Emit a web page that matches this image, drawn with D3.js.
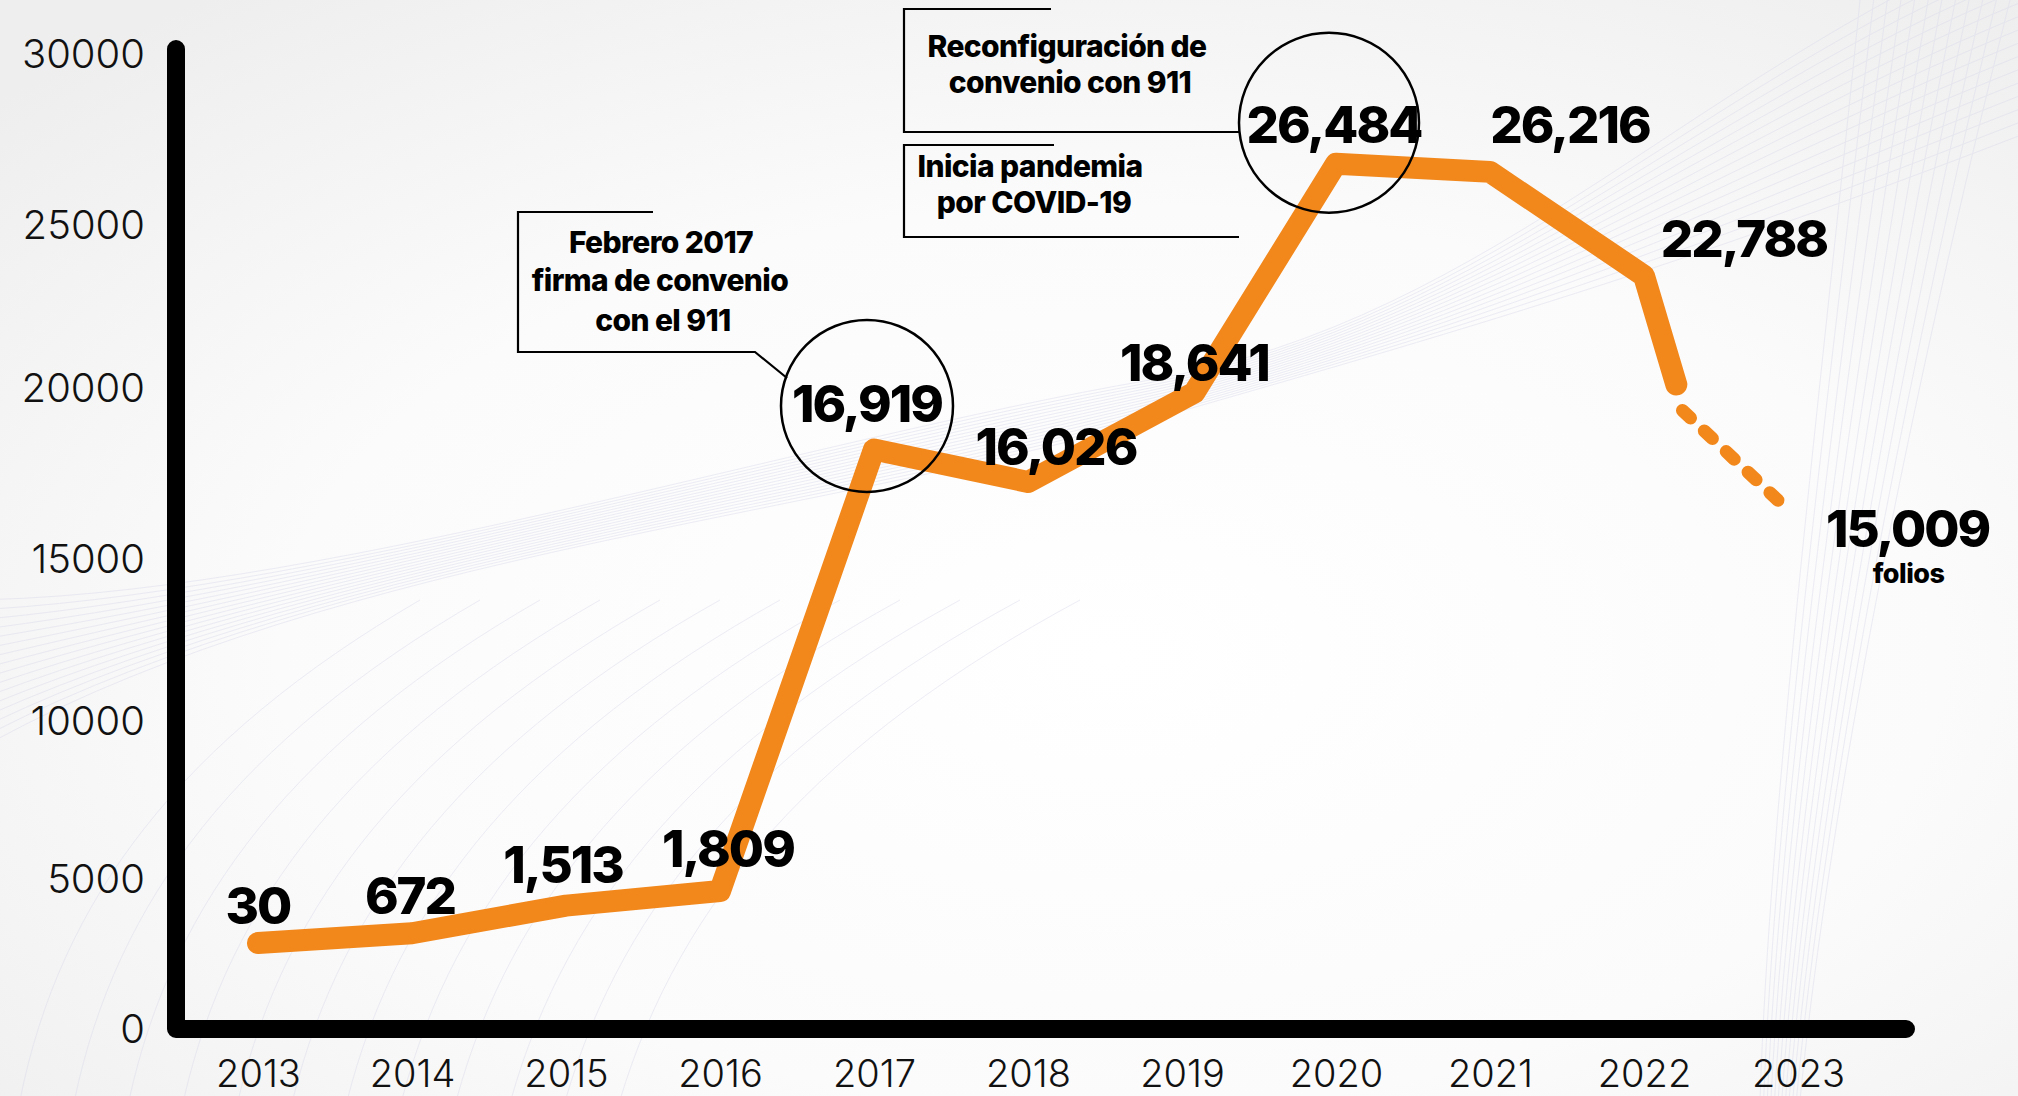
<!DOCTYPE html>
<html>
<head>
<meta charset="utf-8">
<script src="https://cdn.jsdelivr.net/npm/d3@7/dist/d3.min.js"></script>
<style>
  html, body { margin: 0; padding: 0; background: #ffffff; }
  svg { display: block; }
</style>
</head>
<body>
<svg id="chart" width="2018" height="1096"></svg>
<script>
// ---------------- DATA ----------------
const years = [2013, 2014, 2015, 2016, 2017, 2018, 2019, 2020, 2021, 2022, 2023];
const yTicks = [0, 5000, 10000, 15000, 20000, 25000, 30000];

// Where the drawn line sits on the axis
const lineYears = [2013, 2014, 2015, 2016, 2017, 2018, 2019.08, 2020, 2021, 2022, 2022.21];
const lineLevel = [2650, 2950, 3800, 4250, 17850, 16850, 19600, 26650, 26400, 23200, 19850];

// Dashed projection for 2023
const projYears = [2022.25, 2022.9];
const projLevel = [19050, 16150];

// Value labels (folios per year)
const valueLabels = ["30", "672", "1,513", "1,809", "16,919", "16,026", "18,641", "26,484", "26,216", "22,788", "15,009"];

const noteFebrero = ["Febrero 2017", "firma de convenio", "con el 911"];
const noteReconf = ["Reconfiguración de", "convenio con 911"];
const notePandemia = ["Inicia pandemia", "por COVID-19"];
const unitLabel = "folios";

// ---------------- LAYOUT ----------------
const W = 2018, H = 1096;
const ORANGE = "#F2871B";
const svg = d3.select("#chart");

const x = d3.scaleLinear().domain([2013, 2023]).range([258, 1798]);
const y = d3.scaleLinear().domain([0, 30000]).range([1029, 55]);
const axisX0 = 176;

// background
const defs = svg.append("defs");
const rg = defs.append("radialGradient").attr("id", "bg")
  .attr("cx", "0.55").attr("cy", "0.6").attr("r", "0.75");
rg.append("stop").attr("offset", "0").attr("stop-color", "#ffffff");
rg.append("stop").attr("offset", "0.55").attr("stop-color", "#fbfbfb");
rg.append("stop").attr("offset", "1").attr("stop-color", "#eeeeee");
svg.append("rect").attr("width", W).attr("height", H).attr("fill", "url(#bg)");

// faint decorative wave lines
const deco = svg.append("g").attr("fill", "none").attr("stroke", "#d8d9ec").attr("stroke-width", 1).attr("opacity", 0.45);
d3.range(16).forEach(i => {
  const t = i / 15;
  deco.append("path").attr("d",
    `M${-40},${760 - t * 160} C${300},${560 + t * 40} ${800},${520 - t * 80} ${1150},${420 - t * 40} S${1700},${260 - t * 200} ${2060},${120 - t * 200}`);
});
d3.range(12).forEach(i => {
  const t = i / 11;
  deco.append("path").attr("d",
    `M${20 + t * 600},${1100} C${60 + t * 620},${900} ${180 + t * 640},${740} ${420 + t * 660},${600}`);
});
d3.range(12).forEach(i => {
  const t = i / 11;
  deco.append("path").attr("d",
    `M${1760 + t * 40},${1100} C${1770 + t * 60},${800} ${1820 + t * 90},${400} ${1860 + t * 150},${0}`);
});

// axes (thick black L)
svg.append("path")
  .attr("d", `M${axisX0},${y(30000) - 6} V${y(0)} H1906`)
  .attr("fill", "none").attr("stroke", "#000").attr("stroke-width", 18)
  .attr("stroke-linecap", "round").attr("stroke-linejoin", "round");

// y tick labels (small nudges to match the reference's uneven label placement)
const yTickNudge = {0: 1, 5000: 13, 10000: 17, 15000: 18, 20000: 9, 25000: 8, 30000: 0};
const yAxis = svg.append("g").attr("transform", `translate(${axisX0},0)`)
  .call(d3.axisLeft(y).tickValues(yTicks).tickFormat(d3.format("d")).tickSize(0).tickPadding(31));
yAxis.select(".domain").remove();
yAxis.selectAll("text")
  .attr("font-family", "Inter, 'Noto Sans', sans-serif").attr("font-weight", 300)
  .attr("font-size", 40).attr("fill", "#111")
  .attr("y", d => yTickNudge[d]);

// x tick labels
const xAxis = svg.append("g").attr("transform", `translate(0,${y(0)})`)
  .call(d3.axisBottom(x).tickValues(years).tickFormat(d3.format("d")).tickSize(0).tickPadding(0));
xAxis.select(".domain").remove();
xAxis.selectAll("text")
  .attr("font-family", "Inter, 'Noto Sans', sans-serif").attr("font-weight", 300)
  .attr("font-size", 38).attr("fill", "#111")
  .attr("dy", null).attr("y", 58);

// main line
const pts = lineYears.map((yr, i) => [x(yr), y(lineLevel[i])]);
svg.append("path").datum(pts)
  .attr("d", d3.line())
  .attr("fill", "none").attr("stroke", ORANGE).attr("stroke-width", 22)
  .attr("stroke-linecap", "round").attr("stroke-linejoin", "round");

// dashed projection
const proj = projYears.map((yr, i) => [x(yr), y(projLevel[i])]);
svg.append("path").datum(proj)
  .attr("d", d3.line())
  .attr("fill", "none").attr("stroke", ORANGE).attr("stroke-width", 13)
  .attr("stroke-linecap", "round").attr("stroke-dasharray", "11 19");

// annotation circles
const c1 = [pts[4][0] - 7, pts[4][1] - 43.5];
const c2 = [pts[7][0] - 7, pts[7][1] - 41];
svg.append("circle").attr("cx", c1[0]).attr("cy", c1[1]).attr("r", 86)
  .attr("fill", "none").attr("stroke", "#000").attr("stroke-width", 2.5);
svg.append("circle").attr("cx", c2[0]).attr("cy", c2[1]).attr("r", 90)
  .attr("fill", "none").attr("stroke", "#000").attr("stroke-width", 2.5);

// value labels
const anchors = pts.slice(0, 10).concat([proj[1]]);
const labelOffset = [[0, -19], [-2, -19], [-3, -23], [8, -24], [-7, -27], [28, -17], [0, -12], [-2, -21], [80, -29], [100, -19], [125, 42]];
svg.append("g").selectAll("text").data(valueLabels).join("text")
  .attr("x", (d, i) => anchors[i][0] + labelOffset[i][0])
  .attr("y", (d, i) => anchors[i][1] + labelOffset[i][1])
  .attr("text-anchor", "middle")
  .attr("font-family", "Inter, 'Noto Sans', sans-serif").attr("font-weight", 800)
  .attr("font-size", 51).attr("letter-spacing", -2).attr("fill", "#000")
  .text(d => d);

svg.append("text")
  .attr("x", anchors[10][0] + 126).attr("y", anchors[10][1] + 78)
  .attr("text-anchor", "middle")
  .attr("font-family", "Inter, 'Noto Sans', sans-serif").attr("font-weight", 800)
  .attr("font-size", 27).attr("letter-spacing", -0.5).attr("fill", "#000")
  .text(unitLabel);

// annotation boxes
const boxStyle = sel => sel.attr("fill", "none").attr("stroke", "#000").attr("stroke-width", 2.2);
svg.append("path").attr("d", "M653,212 H518 V352 H755 L787,378").call(boxStyle);
svg.append("path").attr("d", `M1051,9 H904 V132 H${c2[0] - 90}`).call(boxStyle);
svg.append("path").attr("d", `M1054,145 H904 V237 H${c2[0] - 90}`).call(boxStyle);

function note(lines, cx, baselines) {
  svg.append("g").selectAll("text").data(lines).join("text")
    .attr("x", (d, i) => cx[i]).attr("y", (d, i) => baselines[i])
    .attr("text-anchor", "middle")
    .attr("font-family", "Inter, 'Noto Sans', sans-serif").attr("font-weight", 800)
    .attr("font-size", 30).attr("letter-spacing", -0.6).attr("fill", "#000")
    .text(d => d);
}
note(noteFebrero, [661, 660, 663], [253, 291, 331]);
note(noteReconf, [1067, 1070], [57, 93]);
note(notePandemia, [1030, 1034], [177, 213]);
</script>
</body>
</html>
